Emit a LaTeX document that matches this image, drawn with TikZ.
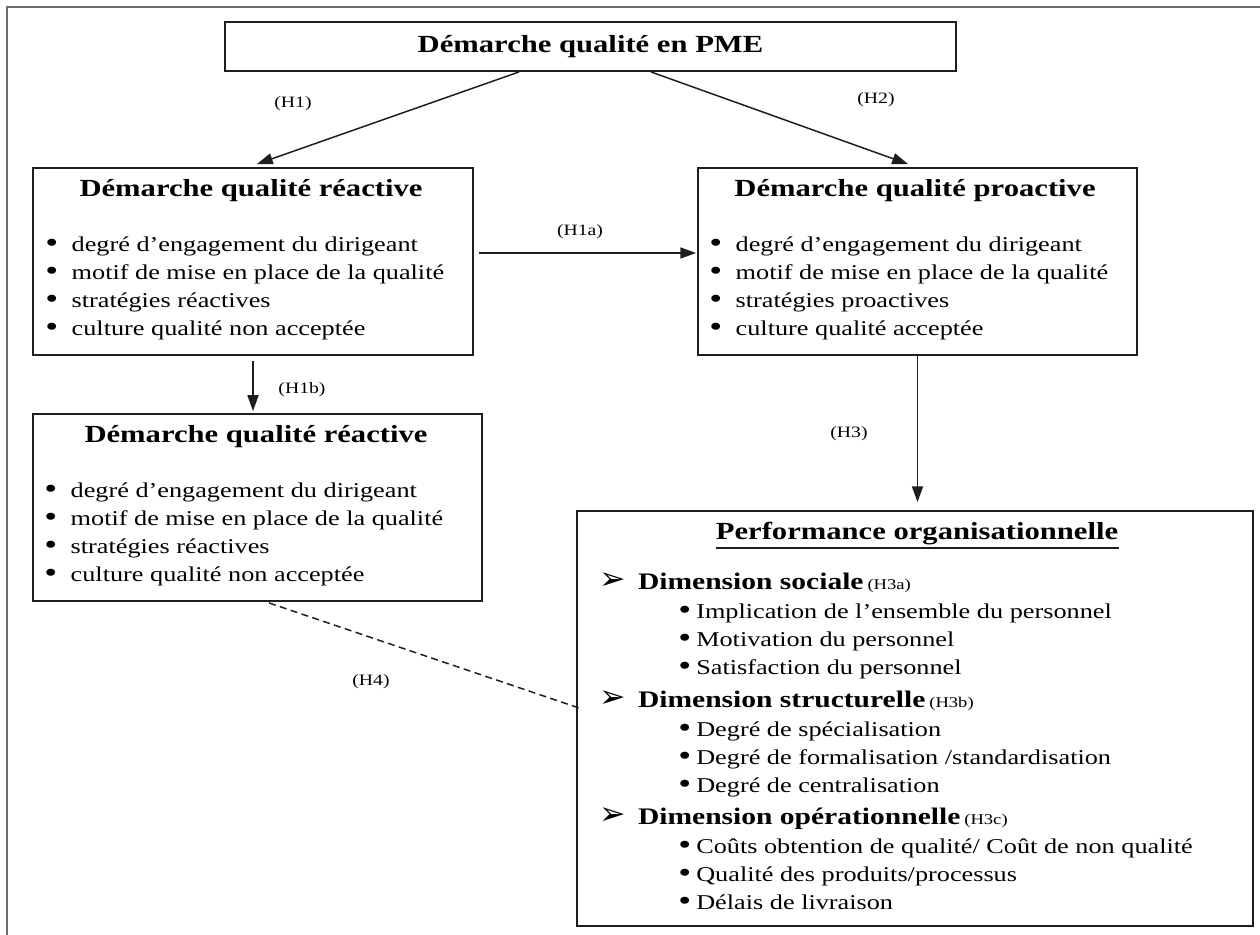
\documentclass[tikz,border=0pt]{standalone}
\usepackage{fontspec}
\setmainfont{Liberation Serif}[FakeStretch=1.245]
\newfontfamily\symf{DejaVu Sans}
\usetikzlibrary{arrows.meta}
\definecolor{QFrame}{RGB}{110,110,110}
\definecolor{QLine}{RGB}{30,30,30}
\newcommand{\bul}[1]{\makebox[#1][l]{\raisebox{-0.7pt}{\scalebox{1.4}{\textbullet}}}}

\begin{document}
\begin{tikzpicture}[x=0.02cm,y=-0.02cm,>={Triangle[length=9pt,width=6.3pt]},
  box/.style={draw=QLine,line width=1.1pt,inner sep=0pt},
  ttl/.style={inner sep=0pt,font=\fontsize{14}{16}\selectfont\bfseries},
  item/.style={anchor=mid west,inner sep=0pt,font=\fontsize{12}{14}\selectfont},
  hyp/.style={inner sep=0pt,font=\fontsize{9}{10}\selectfont},
  link/.style={->,line width=0.85pt,QLine}]
      \useasboundingbox (0,0) rectangle (1260,935);
      \draw[QFrame,line width=1pt] (1270,7) -- (7,7) -- (7,945);
      % boxes
      \node[box,minimum width=14.62cm,minimum height=0.98cm,ttl] (pme) at (590.5,46.5) {Démarche qualité en PME};
      \node[box,minimum width=8.8cm,minimum height=3.74cm] (rea) at (253,261.5) {};
      \node[box,minimum width=8.78cm,minimum height=3.74cm] (pro) at (917.5,261.5) {};
      \node[box,minimum width=8.98cm,minimum height=3.74cm] (rea2) at (257.5,507.5) {};
      \node[box,minimum width=13.52cm,minimum height=8.3cm] (perf) at (915,718.5) {};
      % titles
      \node[ttl] (reat) at (251,191) {Démarche qualité réactive};
      \node[ttl] (prot) at (915,191) {Démarche qualité proactive};
      \node[ttl] (rea2t) at (256,437) {Démarche qualité réactive};
      \node[ttl] (perft) at (917,534) {Performance organisationnelle};
      \draw[QLine,line width=1.2pt] ([yshift=-1.2pt]perft.south west) -- ([yshift=-1.2pt]perft.south east);
      % lists
      \foreach \t [count=\i] in {degré d’engagement du dirigeant,motif de mise en place de la qualité,stratégies réactives,culture qualité non acceptée}
        \node[item] (rea-\i) at (45,{247+(\i-1)*28.2}) {\bul{15pt}\t};
      \foreach \t [count=\i] in {degré d’engagement du dirigeant,motif de mise en place de la qualité,stratégies proactives,culture qualité acceptée}
        \node[item] (pro-\i) at (709,{247+(\i-1)*28.2}) {\bul{15pt}\t};
      \foreach \t [count=\i] in {degré d’engagement du dirigeant,motif de mise en place de la qualité,stratégies réactives,culture qualité non acceptée}
        \node[item] (rea2-\i) at (44,{493+(\i-1)*28.2}) {\bul{15pt}\t};
      \foreach \t/\h/\y [count=\i from 0] in {sociale/a/585,structurelle/b/703,opérationnelle/c/820}
        \node[item,font=\fontsize{13.5}{15}\selectfont\bfseries] (dim-\i) at (599,\y) {\makebox[22pt][l]{\symf\bfseries\fontsize{18}{18}\selectfont ➢}Dimension \t\,{\mdseries\fontsize{8.5}{9}\selectfont(H3\h)}};
      \foreach \t [count=\i] in {Implication de l’ensemble du personnel,Motivation du personnel,Satisfaction du personnel}
        \node[item] (soc-\i) at (678,{585+28*\i+1}) {\bul{10.2pt}\t};
      \foreach \t [count=\i] in {Degré de spécialisation,Degré de formalisation /standardisation,Degré de centralisation}
        \node[item] (str-\i) at (678,{703+28*\i+1}) {\bul{10.2pt}\t};
      \foreach \t [count=\i] in {Coûts obtention de qualité/ Coût de non qualité,Qualité des produits/processus,Délais de livraison}
        \node[item] (ope-\i) at (678,{820+28*\i+1}) {\bul{10.2pt}\t};
      % links
      \draw[link] ([shift={(-71.5,0)}]pme.south) -- ([shift={(4,-3)}]rea.north);
      \draw[link] ([shift={(60.5,0)}]pme.south) -- ([shift={(-9.5,-3)}]pro.north);
      \draw[link] ([shift={(5,-8.5)}]rea.east) -- ([shift={(-1,-8.5)}]pro.west);
      \draw[link] ([shift={(0,5)}]rea.south) -- ([shift={(0,-2)}]rea.south |- rea2.north);
      \draw[link] (pro.south) -- ([shift={(0,-8)}]pro.south |- perf.north);
      \draw[QLine,line width=0.85pt,dash pattern=on 4pt off 2.5pt] ([shift={(11.5,1)}]rea2.south) -- ([shift={(3,-10.5)}]perf.west);
      % hypotheses
      \node[hyp] (h1) at (293,104) {(H1)};
      \node[hyp] (h2) at (876,100) {(H2)};
      \node[hyp] (h1a) at (580,232) {(H1a)};
      \node[hyp] (h1b) at (302,390) {(H1b)};
      \node[hyp] (h3) at (849,434) {(H3)};
      \node[hyp] (h4) at (371,682) {(H4)};
    \end{tikzpicture}
\end{document}
